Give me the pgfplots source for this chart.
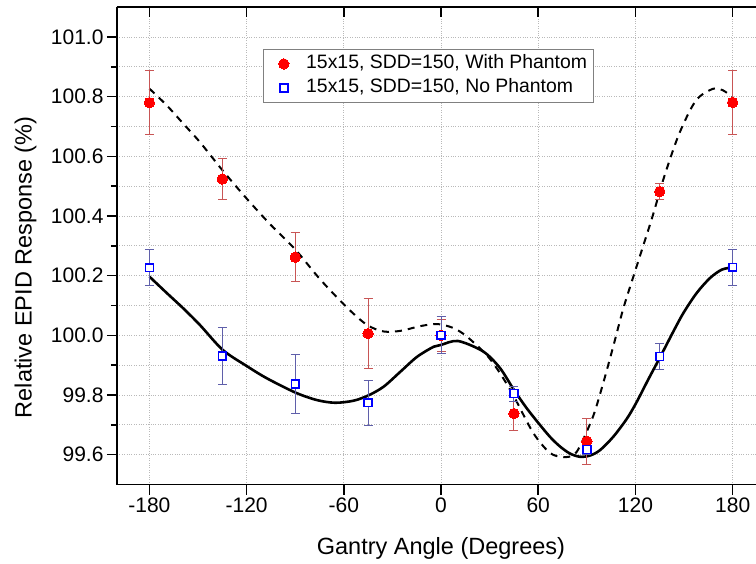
\documentclass[border=0pt]{standalone}
\usepackage{fontspec}
\setmainfont{Liberation Sans}
\usepackage{pgfplots}
\pgfplotsset{compat=1.18}
\definecolor{errred}{RGB}{200,85,85}
\definecolor{errblue}{RGB}{95,95,170}
\definecolor{gridgray}{RGB}{185,185,185}

\pgfplotstableread{
x y e
-180 100.780 0.107
-135 100.524 0.069
-90 100.262 0.082
-45 100.006 0.117
0 100.000 0.053
45 99.738 0.057
90 99.645 0.078
135 100.482 0.028
180 100.781 0.108
}\withphantom

\pgfplotstableread{
x y e
-180 100.227 0.060
-135 99.931 0.097
-90 99.837 0.099
-45 99.774 0.076
0 100.000 0.062
45 99.805 0.025
90 99.617 0.015
135 99.929 0.044
180 100.228 0.060
}\nophantom

\pgfplotstableread{
x y
-180 100.827
-169.3 100.771
-159.0 100.709
-148.7 100.647
-134.7 100.552
-119.9 100.458
-105.4 100.372
-90.0 100.288
-74.5 100.187
-58.0 100.093
-45.7 100.035
-35.4 100.013
-25.1 100.015
-12.7 100.031
-2.4 100.038
7.4 100.025
15.7 99.997
28.0 99.935
36.3 99.874
44.9 99.796
56.9 99.673
67.2 99.606
75.4 99.592
81.6 99.598
85.7 99.628
93.9 99.729
100.1 99.840
106.3 99.963
112.5 100.090
118.6 100.195
124.3 100.292
130.5 100.398
137.7 100.531
147.0 100.676
157.3 100.787
167.6 100.826
173.8 100.822
180.0 100.798
}\fitwith

\pgfplotstableread{
x y
-180 100.197
-169.5 100.143
-159.0 100.090
-148.7 100.034
-134.7 99.951
-119.9 99.897
-107.5 99.856
-89.8 99.808
-76.6 99.783
-65.3 99.774
-53.9 99.781
-44.7 99.799
-35.4 99.828
-25.1 99.878
-14.8 99.928
-4.5 99.962
0 99.968
10.5 99.981
26.0 99.946
36.3 99.891
44.9 99.818
52.7 99.757
60.1 99.706
67.2 99.660
73.3 99.628
79.5 99.604
85.7 99.593
91.9 99.597
98.1 99.615
106.3 99.660
114.5 99.719
120.3 99.772
127.9 99.852
135.5 99.930
143.4 100.013
149.6 100.075
157.8 100.142
166.0 100.192
173.2 100.220
180.0 100.228
}\fitno

\begin{document}
\begin{tikzpicture}
\begin{axis}[
  name=ax,
  scale only axis,
  width=639pt, height=477.3pt,
  xmin=-200, xmax=194.4,
  ymin=99.5, ymax=101.1,
  axis x line*=box, axis y line*=left,
  xtick={-180,-120,-60,0,60,120,180},
  ytick={99.6,99.8,100.0,100.2,100.4,100.6,100.8,101.0},
  minor ytick={99.7,99.9,100.1,100.3,100.5,100.7,100.9},
  xtick pos=bottom, ytick pos=left,
  tick align=outside,
  major tick length=10pt, minor tick length=6pt,
  every tick/.style={black, line width=1.6pt},
  axis line style={black, line width=1.8pt},
  xmajorgrids, ymajorgrids, yminorgrids,
  major grid style={gridgray, dotted, line width=0.9pt},
  minor grid style={gridgray, dotted, line width=0.9pt},
  /pgf/number format/assume math mode=true,
  ticklabel style={font=\fontsize{21}{25}\selectfont},
  yticklabel style={/pgf/number format/.cd, fixed, fixed zerofill, precision=1},
  xticklabel style={/pgf/number format/.cd, fixed, precision=0},
  scaled y ticks=false,
  xlabel={Gantry Angle (Degrees)},
  ylabel={Relative EPID Response (\%)},
  xlabel style={at={(axis description cs:0.507,-0.134)}, anchor=center, font=\fontsize{23.5}{27}\selectfont},
  ylabel style={at={(axis description cs:-0.143,0.455)}, anchor=center, font=\fontsize{23.5}{27}\selectfont},
  legend style={at={(axis description cs:0.2285,0.9124)}, anchor=north west,
    draw=gray, line width=0.8pt, font=\fontsize{19.4}{23}\selectfont,
    inner xsep=4pt, inner ysep=2.5pt, row sep=0pt,
    nodes={text height=14pt, text depth=4pt, inner ysep=3pt}},
  legend image code/.code={\path (0pt,0pt) (36pt,0pt); \draw[#1] plot coordinates {(16pt,0pt)};},
  legend cell align=left,
]
\addplot[black, line width=2pt, dash pattern=on 7pt off 6pt, smooth, forget plot] table[x=x,y=y]{\fitwith};
\addplot[black, line width=2.6pt, smooth, forget plot] table[x=x,y=y]{\fitno};

\addplot[only marks, mark=*, mark size=5.2pt, mark options={fill=red, draw=red, line width=0pt},
  error bars/.cd, y dir=both, y explicit,
  error bar style={errred, line width=0.9pt},
  error mark options={errred, rotate=90, mark size=4.5pt, line width=0.9pt}]
  table[x=x,y=y,y error=e]{\withphantom};
\addlegendentry{15x15, SDD=150, With Phantom}

\addplot[only marks, mark=square*, mark size=3.9pt, mark options={fill=white, draw=blue, line width=1.6pt},
  error bars/.cd, y dir=both, y explicit,
  error bar style={errblue, line width=0.9pt},
  error mark options={errblue, rotate=90, mark size=4.5pt, line width=0.9pt}]
  table[x=x,y=y,y error=e]{\nophantom};
\addlegendentry{15x15, SDD=150, No Phantom}
\end{axis}
\begin{axis}[
  scale only axis,
  width=639pt, height=477.3pt,
  at={(ax.south west)}, anchor=south west,
  xmin=-200, xmax=194.4,
  ymin=99.5, ymax=101.1,
  axis x line*=top, axis y line=none,
  xtick={-180,-120,-60,0,60,120,180},
  xticklabels={},
  ytick=\empty,
  tick align=inside,
  major tick length=10pt,
  every tick/.style={black, line width=1.6pt},
  axis line style={black, line width=1.8pt},
]
\end{axis}
\pgfresetboundingbox
\path[use as bounding box] ([xshift=-117pt,yshift=-78.5pt]ax.south west) rectangle ++(756pt,563pt);
\end{tikzpicture}
\end{document}
